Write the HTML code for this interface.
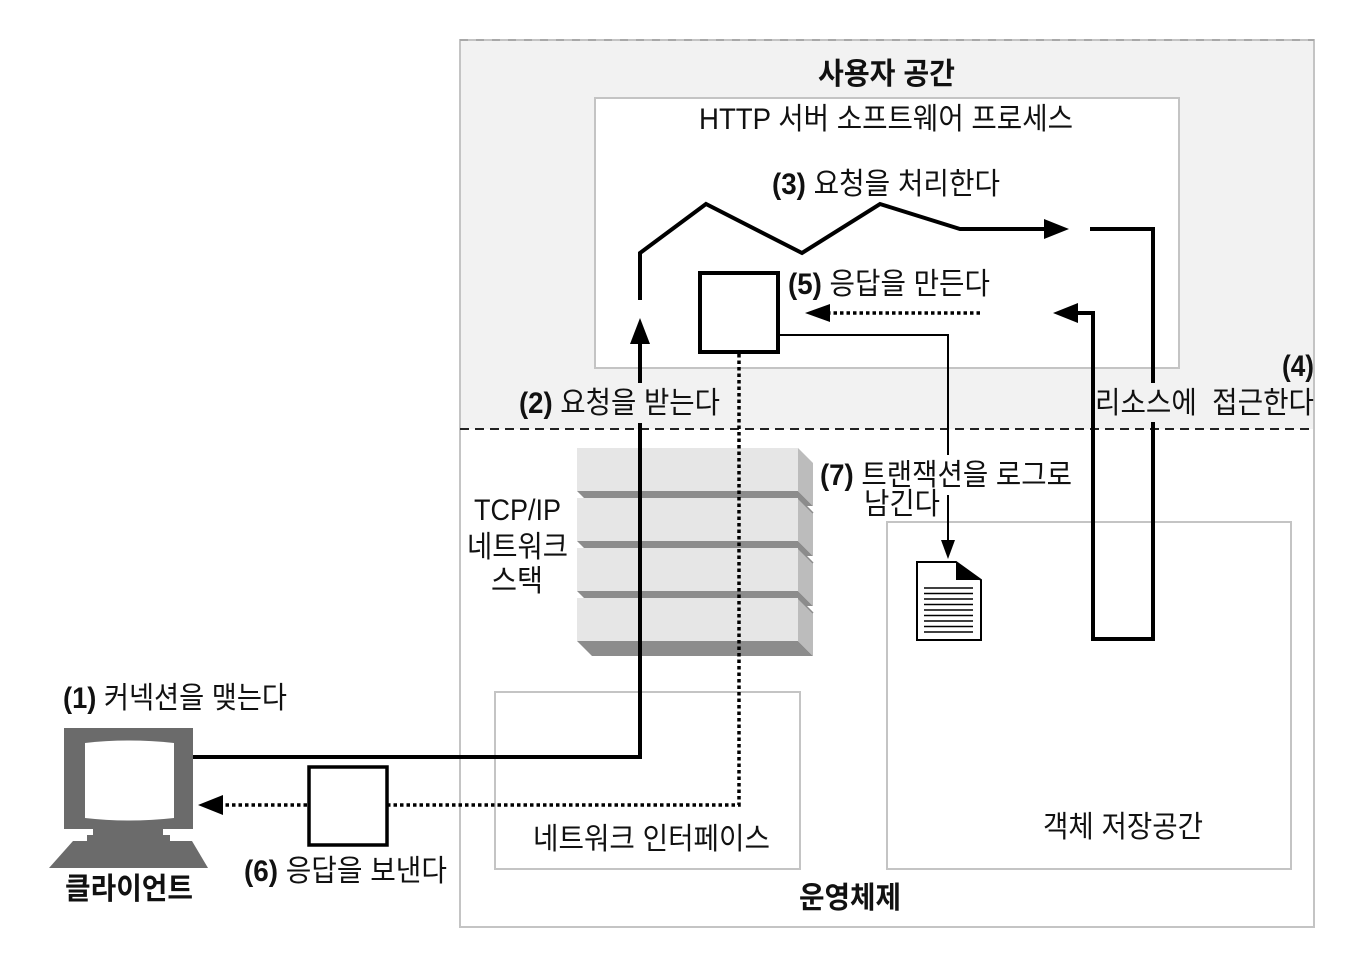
<!DOCTYPE html>
<html><head><meta charset="utf-8"><style>
html,body{margin:0;padding:0;background:#fff;}
svg{display:block;}
text{font-family:"Liberation Sans","Noto Sans CJK KR",sans-serif;font-size:30px;fill:#111;white-space:pre;}
.b{font-weight:bold;}
</style></head><body>
<svg width="1364" height="966" viewBox="0 0 1364 966" xmlns="http://www.w3.org/2000/svg">
<!-- outer OS box -->
<rect x="460" y="40" width="854" height="887" fill="#fff" stroke="#c4c4c4" stroke-width="2"/>
<rect x="461" y="41" width="852" height="388" fill="#f2f2f2"/>
<line x1="460" y1="40" x2="1314" y2="40" stroke="#a8a8a8" stroke-width="2" stroke-dasharray="8 8"/>
<!-- HTTP box -->
<rect x="595" y="98" width="584" height="270" fill="#fff" stroke="#c4c4c4" stroke-width="2"/>
<!-- dashed divider -->
<line x1="460" y1="429" x2="1314" y2="429" stroke="#222" stroke-width="2" stroke-dasharray="9 6"/>
<!-- network interface & object storage boxes -->
<rect x="495" y="692" width="305" height="177" fill="none" stroke="#c4c4c4" stroke-width="2"/>
<rect x="887" y="522" width="404" height="347" fill="none" stroke="#c4c4c4" stroke-width="2"/>

<!-- TCP/IP stack -->
<g>
 <polygon points="577,491 798,491 813,506 592,506" fill="#8c8c8c"/>
 <polygon points="798,448 813,463 813,506 798,491" fill="#bcbcbc"/>
 <rect x="577" y="448" width="221" height="43" fill="#e6e6e6"/>
 <polygon points="577,541 798,541 813,556 592,556" fill="#8c8c8c"/>
 <polygon points="798,498 813,513 813,556 798,541" fill="#bcbcbc"/>
 <line x1="798" y1="498" x2="813" y2="513" stroke="#8c8c8c" stroke-width="1.5"/>
 <rect x="577" y="498" width="221" height="43" fill="#e6e6e6"/>
 <polygon points="577,591 798,591 813,606 592,606" fill="#8c8c8c"/>
 <polygon points="798,548 813,563 813,606 798,591" fill="#bcbcbc"/>
 <line x1="798" y1="548" x2="813" y2="563" stroke="#8c8c8c" stroke-width="1.5"/>
 <rect x="577" y="548" width="221" height="43" fill="#e6e6e6"/>
 <polygon points="577,641 798,641 813,656 592,656" fill="#8c8c8c"/>
 <polygon points="798,598 813,613 813,656 798,641" fill="#bcbcbc"/>
 <line x1="798" y1="598" x2="813" y2="613" stroke="#8c8c8c" stroke-width="1.5"/>
 <rect x="577" y="598" width="221" height="43" fill="#e6e6e6"/>
</g>

<!-- connectors -->
<g fill="none" stroke="#000" stroke-width="4" stroke-linejoin="miter">
 <path d="M193,757 H640 V423"/>
 <path d="M640,383 V340"/>
 <path d="M640,300 V253 L706,204 L802,253 L880,204 L960,229 H1047"/>
 <path d="M1090,229 H1153 V383"/>
 <path d="M1153,422 V639 H1093 V313 H1076"/>
</g>
<polygon points="640,318 630,344 650,344" fill="#000"/>
<polygon points="1069,229 1044,219 1044,239" fill="#000"/>
<polygon points="1053,313 1078,303 1078,323" fill="#000"/>

<!-- dotted lines -->
<g fill="none" stroke="#000" stroke-width="3.5" stroke-dasharray="3.5 3">
 <path d="M739,354 V805 H388"/>
 <path d="M307,805 H222"/>
 <path d="M980,313 H830"/>
</g>
<polygon points="198,805 223,795 223,815" fill="#000"/>
<polygon points="805,313 830,304 830,322" fill="#000"/>

<!-- log line -->
<g fill="none" stroke="#000" stroke-width="2">
 <path d="M780,335 H948 V455"/>
 <path d="M948,495 V541"/>
</g>
<polygon points="948,559 941,540 955,540" fill="#000"/>

<!-- boxes (5) and (6) -->
<rect x="700" y="273" width="78" height="79" fill="#fff" stroke="#000" stroke-width="4"/>
<rect x="309" y="767" width="78" height="78" fill="#fff" stroke="#000" stroke-width="3.5"/>

<!-- document icon -->
<polygon points="917,562 956,562 981,580 981,640 917,640" fill="#fff" stroke="#000" stroke-width="2"/>
<polygon points="956,562 981,580 956,580" fill="#000"/>
<g stroke="#000" stroke-width="1.6">
 <line x1="924" y1="588" x2="973" y2="588"/>
 <line x1="924" y1="593.5" x2="973" y2="593.5"/>
 <line x1="924" y1="599" x2="973" y2="599"/>
 <line x1="924" y1="604.5" x2="973" y2="604.5"/>
 <line x1="924" y1="610" x2="973" y2="610"/>
 <line x1="924" y1="615.5" x2="973" y2="615.5"/>
 <line x1="924" y1="621" x2="973" y2="621"/>
 <line x1="924" y1="626.5" x2="973" y2="626.5"/>
 <line x1="924" y1="632" x2="973" y2="632"/>
</g>

<!-- client computer -->
<g fill="#6b6b6b">
 <rect x="64" y="728" width="129" height="101"/>
 <rect x="93" y="828" width="70" height="8"/>
 <rect x="87" y="835" width="83" height="7"/>
 <polygon points="73,841 192,841 208,868 49,868"/>
</g>
<path d="M85,743 Q129,738 174,743 L174,818 Q129,823 85,818 Z" fill="#fff"/>

<!-- labels -->
<text class="b" x="818" y="84" textLength="137" lengthAdjust="spacingAndGlyphs">사용자 공간</text>
<text x="699" y="129" textLength="374" lengthAdjust="spacingAndGlyphs">HTTP 서버 소프트웨어 프로세스</text>
<text x="772" y="194" textLength="228" lengthAdjust="spacingAndGlyphs"><tspan class="b">(3)</tspan> 요청을 처리한다</text>
<text x="788" y="294" textLength="202" lengthAdjust="spacingAndGlyphs"><tspan class="b">(5)</tspan> 응답을 만든다</text>
<text class="b" x="1282" y="376" textLength="32" lengthAdjust="spacingAndGlyphs">(4)</text>
<text x="519" y="413" textLength="201" lengthAdjust="spacingAndGlyphs"><tspan class="b">(2)</tspan> 요청을 받는다</text>
<text x="1095" y="413" textLength="219" lengthAdjust="spacingAndGlyphs">리소스에  접근한다</text>
<text x="820" y="485" textLength="252" lengthAdjust="spacingAndGlyphs"><tspan class="b">(7)</tspan> 트랜잭션을 로그로</text>
<text x="864" y="514" textLength="76" lengthAdjust="spacingAndGlyphs">남긴다</text>
<text x="474" y="520" textLength="87" lengthAdjust="spacingAndGlyphs">TCP/IP</text>
<text x="467" y="557" textLength="101" lengthAdjust="spacingAndGlyphs">네트워크</text>
<text x="491" y="591" textLength="52" lengthAdjust="spacingAndGlyphs">스택</text>
<text x="63" y="708" textLength="224" lengthAdjust="spacingAndGlyphs"><tspan class="b">(1)</tspan> 커넥션을 맺는다</text>
<text x="244" y="881" textLength="203" lengthAdjust="spacingAndGlyphs"><tspan class="b">(6)</tspan> 응답을 보낸다</text>
<text class="b" x="65" y="899" textLength="128" lengthAdjust="spacingAndGlyphs">클라이언트</text>
<text x="533" y="849" textLength="237" lengthAdjust="spacingAndGlyphs">네트워크 인터페이스</text>
<text x="1043" y="837" textLength="160" lengthAdjust="spacingAndGlyphs">객체 저장공간</text>
<text class="b" x="799" y="908" textLength="102" lengthAdjust="spacingAndGlyphs">운영체제</text>
</svg>
</body></html>
